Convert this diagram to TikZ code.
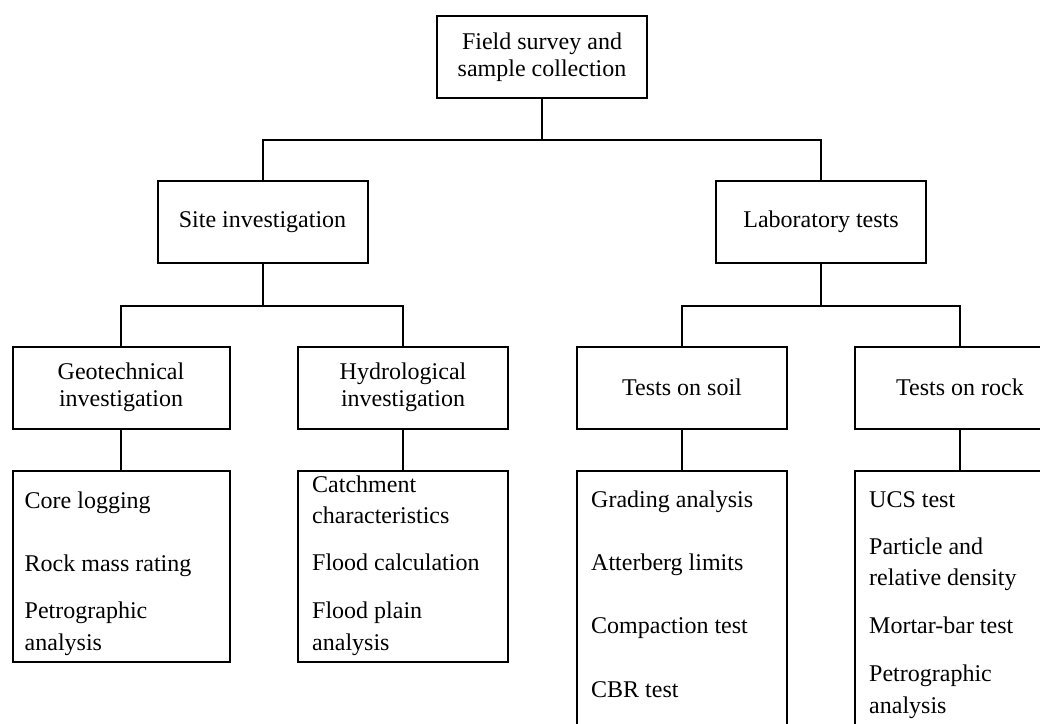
\documentclass[tikz,border=0pt]{standalone}
\usepackage{fontspec}
\setmainfont{Liberation Serif}
\usepackage{tikz}
\usetikzlibrary{calc}
\usetikzlibrary{positioning}
\tikzset{
    headbox/.style={
        draw,
        rectangle,
        line width=2pt,
        minimum width=210pt,
        minimum height=82pt,
        inner sep=0pt,
        align=center,
        font=\fontsize{24}{27}\selectfont
    },
    % boxes holding the lists of tasks
    listbox/.style={
        draw,
        rectangle,
        line width=2pt,
        minimum width=210pt,
        minimum height=191pt,
        inner sep=0pt
    },
    listtext/.style={
        anchor=base west,
        inner sep=0pt,
        font=\fontsize{24}{31.5}\selectfont
    },
    link/.style={
        line width=2pt,
        black
    }
}

\begin{document}
\begin{tikzpicture}[x=1pt,y=-1pt]
    \useasboundingbox (0,0) rectangle (1040,723);
    \clip (0,0) rectangle (1040,723);

    \node[headbox] (field) at (542,57) {Field survey and\\sample collection};
    \node[headbox] (site) at (262.5,222) {Site investigation};
    \node[headbox] (lab) at (821,222) {Laboratory tests};

    \node[headbox,minimum width=217pt] (geo) at (121,387.5) {Geotechnical\\investigation};
    \node[headbox] (hydro) at (403,387.5) {Hydrological\\investigation};
    \node[headbox] (soil) at (682,387.5) {Tests on soil};
    \node[headbox] (rock) at (960,387.5) {Tests on rock};

    \node[listbox,minimum width=217pt] (geosub) at (121,566.5) {};
    \node[listbox] (hydrosub) at (403,566.5) {};
    \node[listbox,minimum height=320pt] (soilsub) at (682,631) {};
    \node[listbox,minimum height=320pt] (rocksub) at (960,631) {};

    \node[listtext] (geolist) at ($(geosub.north west)+(13,38)$)
        {\begin{tabular}[t]{@{}l@{}}Core logging\\[31.5pt]Rock mass rating\\[16pt]Petrographic\\analysis\end{tabular}};
    \node[listtext] (hydrolist) at ($(hydrosub.north west)+(15,22)$)
        {\begin{tabular}[t]{@{}l@{}}Catchment\\characteristics\\[15.5pt]Flood calculation\\[16.5pt]Flood plain\\analysis\end{tabular}};
    \node[listtext] (soillist) at ($(soilsub.north west)+(15,37)$)
        {\begin{tabular}[t]{@{}l@{}}Grading analysis\\[31.5pt]Atterberg limits\\[31.5pt]Compaction test\\[33pt]CBR test\end{tabular}};
    \node[listtext] (rocklist) at ($(rocksub.north west)+(15,37)$)
        {\begin{tabular}[t]{@{}l@{}}UCS test\\[15.5pt]Particle and\\relative density\\[16.5pt]Mortar-bar test\\[16.5pt]Petrographic\\analysis\end{tabular}};

    \draw[link] (field.south) -- ++(0,41) -| (site.north);
    \draw[link] (field.south) -- ++(0,41) -| (lab.north);
    \draw[link] (site.south) -- ++(0,42) -| (geo.north);
    \draw[link] (site.south) -- ++(0,42) -| (hydro.north);
    \draw[link] (lab.south) -- ++(0,42) -| (soil.north);
    \draw[link] (lab.south) -- ++(0,42) -| (rock.north);

    \draw[link] (geo.south) -- (geosub.north);
    \draw[link] (hydro.south) -- (hydrosub.north);
    \draw[link] (soil.south) -- (soilsub.north);
    \draw[link] (rock.south) -- (rocksub.north);
\end{tikzpicture}
\end{document}
